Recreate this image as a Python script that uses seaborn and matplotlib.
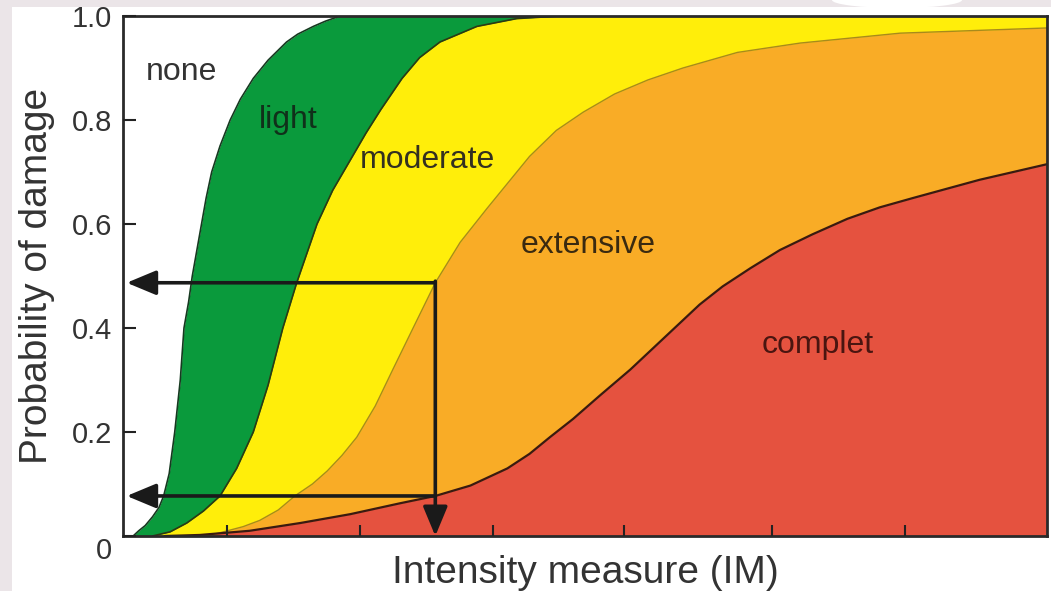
import matplotlib
matplotlib.use("Agg")
import matplotlib.pyplot as plt
import seaborn as sns
from matplotlib.patches import Rectangle, Ellipse
from matplotlib.transforms import ScaledTranslation

# fragility curves: P(damage >= state) against IM
im_light = [0.11, 0.17, 0.24, 0.32, 0.39, 0.44, 0.50, 0.56, 0.62, 0.66, 0.71, 0.75, 0.80, 0.85,
            0.90, 0.96, 1.05, 1.16, 1.27, 1.41, 1.57, 1.77, 1.89, 2.06, 2.19, 2.35, 10.0]
p_light = [0, 0.01, 0.02, 0.037, 0.055, 0.077, 0.12, 0.2, 0.3, 0.4, 0.45, 0.5, 0.55, 0.6,
           0.65, 0.7, 0.75, 0.8, 0.84, 0.88, 0.915, 0.95, 0.965, 0.98, 0.99, 1.0, 1.0]

im_moderate = [0.32, 0.51, 0.69, 0.87, 1.05, 1.23, 1.41, 1.57, 1.73, 1.88, 2.10, 2.27, 2.45,
               2.63, 2.79, 3.02, 3.21, 3.43, 3.83, 4.26, 4.73, 10.0]
p_moderate = [0, 0.008, 0.025, 0.048, 0.077, 0.13, 0.2, 0.29, 0.4, 0.487, 0.6, 0.665, 0.72,
              0.775, 0.82, 0.88, 0.92, 0.95, 0.98, 0.995, 1.0, 1.0]

im_extensive = [0.89, 1.00, 1.13, 1.30, 1.48, 1.68, 1.86, 2.05, 2.21, 2.37, 2.53, 2.73, 2.92,
                3.14, 3.38, 3.65, 3.94, 4.17, 4.40, 4.69, 4.98, 5.32, 5.68, 6.06, 6.65, 7.33,
                8.41, 10.0]
p_extensive = [0, 0.004, 0.01, 0.018, 0.03, 0.05, 0.077, 0.1, 0.125, 0.155, 0.19, 0.25, 0.32,
               0.4, 0.487, 0.565, 0.63, 0.68, 0.73, 0.78, 0.815, 0.85, 0.877, 0.9, 0.93, 0.948,
               0.967, 0.977]

im_complete = [0.45, 0.83, 1.37, 1.92, 2.46, 3.00, 3.38, 3.76, 4.16, 4.40, 4.62, 4.87, 5.16,
               5.49, 5.76, 6.03, 6.24, 6.49, 6.79, 7.11, 7.46, 7.84, 8.19, 8.55, 8.92, 9.27, 10.0]
p_complete = [0, 0.002, 0.01, 0.025, 0.042, 0.063, 0.077, 0.097, 0.13, 0.158, 0.19, 0.225, 0.27,
              0.32, 0.365, 0.41, 0.445, 0.48, 0.515, 0.55, 0.58, 0.61, 0.632, 0.65, 0.668,
              0.685, 0.715]

state_names = ["none", "light", "moderate", "extensive", "complet"]
state_im = [0.63, 1.79, 3.30, 5.03, 7.52]
state_p = [0.892, 0.80, 0.723, 0.56, 0.367]

# the example IM value and its two read-off probabilities
im_example = 3.38
p_example = [0.487, 0.077]

x_ticks = [1.13, 2.56, 4.00, 5.42, 7.02, 8.46]
y_ticks = [0, 0.2, 0.4, 0.6, 0.8, 1.0]
y_ticklabels = ["0", "0.2", "0.4", "0.6", "0.8", "1.0"]

sns.set_theme(style="white")
plt.rcParams["font.family"] = ["Liberation Sans", "DejaVu Sans"]

fig = plt.figure(figsize=(10.51, 5.91), dpi=100)
fig.patch.set_facecolor("#ebe5e8")
fig.add_artist(Rectangle((12 / 1051, 0), 1, 1 - 7 / 591, transform=fig.transFigure,
                         facecolor="white", edgecolor="none", zorder=-10))
fig.add_artist(Ellipse((897 / 1051, 1.0), 130 / 1051, 16 / 591, transform=fig.transFigure,
                       facecolor="white", edgecolor="none", zorder=-9))

ax = fig.add_axes([123 / 1051, 55 / 591, 924 / 1051, 520 / 591])
ax.set_facecolor("white")
ax.set_axisbelow(False)

green = "#0a9a3c"
yellow = "#ffee0a"
orange = "#f9ac26"
red = "#e5523f"

# stacked fills, painted from the lowest damage state up
ax.fill_between(im_light, 0, p_light, color=green, lw=0)
ax.fill_between(im_moderate, 0, p_moderate, color=yellow, lw=0)
ax.fill_between(im_extensive, 0, p_extensive, color=orange, lw=0)
ax.fill_between(im_complete, 0, p_complete, color=red, lw=0)

sns.lineplot(x=im_light, y=p_light, color="#163a20", lw=1.2, ax=ax, sort=False)
sns.lineplot(x=im_moderate, y=p_moderate, color="#2c3a12", lw=1.2, ax=ax, sort=False)
sns.lineplot(x=im_extensive, y=p_extensive, color="#a88a1c", lw=1.0, ax=ax, sort=False)
sns.lineplot(x=im_complete, y=p_complete, color="#3a1a10", lw=1.6, ax=ax, sort=False)

label_colors = ["#333333", "#10301a", "#333020", "#3a2a10", "#4a1510"]
for name, xi, yi, c in zip(state_names, state_im, state_p, label_colors):
    ax.text(xi, yi, name, fontsize=23, color=c, ha="center", va="center")

# reading arrows
arrow_kw = dict(arrowstyle="-|>,head_length=0.6,head_width=0.25", mutation_scale=30,
                color="#1a1a1a", lw=2.6, shrinkA=0, shrinkB=0)
for p in p_example:
    ax.annotate("", xy=(0.04, p), xytext=(im_example, p), arrowprops=arrow_kw)
ax.annotate("", xy=(im_example, 0.0), xytext=(im_example, p_example[0] + 0.003), arrowprops=arrow_kw)

ax.set_xlim(0, 10)
ax.set_ylim(0, 1)
ax.set_xticks(x_ticks)
ax.set_xticklabels([])
ax.set_yticks(y_ticks)
ax.set_yticklabels(y_ticklabels)
ax.tick_params(axis="both", direction="in", length=9, width=1.5, color="#222222",
               labelsize=21, labelcolor="#333333", pad=8, bottom=True, left=True)
ax.tick_params(axis="x", length=8)
for spine in ax.spines.values():
    spine.set_visible(True)
    spine.set_color("#2a2a2a")
    spine.set_linewidth(2)

ax.set_xlabel("Intensity measure (IM)", fontsize=28, color="#333333", labelpad=6)
ax.set_ylabel("Probability of damage", fontsize=28, color="#333333", labelpad=12)

# the "0" label sits a little below its tick in the original
zero = ax.get_yticklabels()[0]
zero.set_transform(zero.get_transform() + ScaledTranslation(0, -12 / 100, fig.dpi_scale_trans))

fig.savefig("out.png", dpi=100, facecolor=fig.get_facecolor())
